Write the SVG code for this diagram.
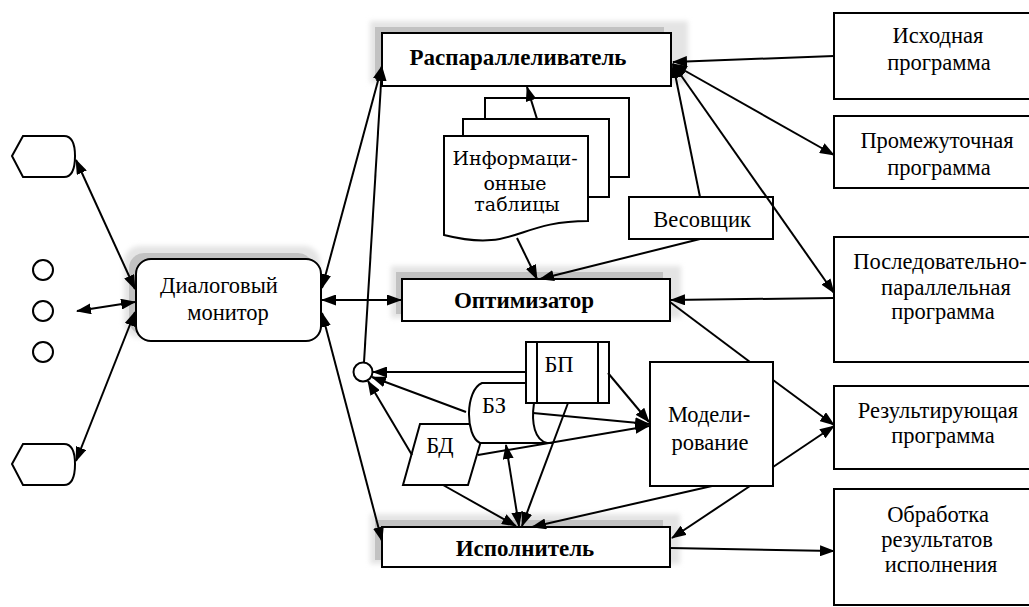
<svg xmlns="http://www.w3.org/2000/svg" width="1029" height="607" viewBox="0 0 1029 607">
<defs>
<marker id="arr" markerUnits="userSpaceOnUse" markerWidth="15" markerHeight="11" refX="14" refY="5.5" orient="auto-start-reverse">
<path d="M0,0 L15,5.5 L0,11 Z" fill="#000"/>
</marker>
<filter id="soft" x="-10%" y="-20%" width="120%" height="140%">
<feGaussianBlur stdDeviation="2.5"/>
</filter>
</defs>
<style>
.box{fill:#fff;stroke:#000;stroke-width:2}
.sh{fill:#c2c2c2}
.halo{fill:#e4e4e4;filter:url(#soft)}
.t{font-family:"Liberation Serif","Times New Roman",serif;font-size:22.5px;fill:#000;text-anchor:middle}
.b{font-weight:bold;font-size:23px}
.w{font-family:"DejaVu Serif","Liberation Serif",serif;font-size:19px}
.c{fill:none;stroke:#000;stroke-width:2}
.a{marker-end:url(#arr)}
.d{marker-start:url(#arr);marker-end:url(#arr)}
</style>
<rect width="1029" height="607" fill="#fff"/>

<g id="hex-top">
<path class="box" d="M12,156 L23,136 H64 Q75,136 75,156 Q75,177 64,177 H23 Z"/>
</g>
<g id="circles">
<circle class="box" cx="43" cy="270" r="10"/>
<circle class="box" cx="43" cy="311" r="10"/>
<circle class="box" cx="43" cy="352" r="10"/>
</g>
<g id="hex-bottom">
<path class="box" d="M12,464 L23,444 H64 Q75,444 75,464 Q75,485 64,485 H23 Z"/>
</g>

<g id="monitor">
<rect class="halo" x="124" y="246" width="196" height="92" rx="16"/>
<rect class="sh" x="129" y="253" width="184" height="82" rx="15"/>
<rect class="box" x="136" y="259" width="185" height="82" rx="15"/>
<text class="t" x="219" y="293">Диалоговый</text>
<text class="t" x="228" y="320">монитор</text>
</g>

<g id="parallelizer">
<rect class="halo" x="370" y="21" width="318" height="62"/>
<rect class="sh" x="375" y="27" width="289" height="53"/>
<rect class="box" x="382" y="33" width="289" height="53"/>
<text class="t b" x="518" y="65">Распараллеливатель</text>
</g>

<g id="info-tables">
<rect class="box" x="485" y="98" width="144" height="79"/>
<rect class="box" x="463" y="119" width="146" height="78"/>
<path class="box" d="M444,136 H588 V221 C516,221 516,253 444,235 Z"/>
<text class="t w" x="515" y="165">Информаци-</text>
<text class="t w" x="515" y="190">онные</text>
<text class="t w" x="517" y="211">таблицы</text>
</g>

<g id="weigher">
<rect class="box" x="629" y="197" width="144" height="42"/>
<text class="t" x="702" y="227">Весовщик</text>
</g>

<g id="optimizer">
<rect class="halo" x="391" y="266" width="290" height="52"/>
<rect class="sh" x="396" y="272" width="267" height="42"/>
<rect class="box" x="402" y="279" width="268" height="42"/>
<text class="t b" x="524" y="308">Оптимизатор</text>
</g>

<g id="junction">
<circle class="box" cx="363" cy="372" r="9.5"/>
</g>

<g id="bd">
<path class="box" d="M420,424 H486 L468,485 H403 Z"/>
<text class="t" x="440" y="453">БД</text>
</g>

<g id="bz">
<path fill="#fff" d="M482,383 H545 V443 H480 C465,436 465,390 482,383 Z"/>
<path class="c" d="M526,383 H482 C465,390 465,436 480,443 H552"/>
<path class="c" d="M534,403 C531,424 535,440 547,443"/>
<text class="t" x="494" y="413">БЗ</text>
</g>

<g id="bp">
<rect class="box" x="526" y="342" width="83" height="61"/>
<path class="c" d="M537,342 V403 M598,342 V403"/>
<text class="t" x="559" y="372">БП</text>
</g>

<g id="modeling">
<rect class="box" x="650" y="362" width="123" height="124"/>
<text class="t" x="709" y="422">Модели-</text>
<text class="t" x="710" y="450">рование</text>
</g>

<g id="executor">
<rect class="halo" x="370" y="514" width="310" height="50"/>
<rect class="sh" x="375" y="520" width="288" height="40"/>
<rect class="box" x="382" y="527" width="288" height="40"/>
<text class="t b" x="525" y="556">Исполнитель</text>
</g>

<g id="source">
<rect class="box" x="834" y="13" width="215" height="86"/>
<text class="t" x="938" y="43">Исходная</text>
<text class="t" x="939" y="70">программа</text>
</g>
<g id="intermediate">
<rect class="box" x="834" y="116" width="215" height="72"/>
<text class="t" x="937" y="148">Промежуточная</text>
<text class="t" x="939" y="175">программа</text>
</g>
<g id="seqpar">
<rect class="box" x="834" y="237" width="215" height="125"/>
<text class="t" x="940" y="269">Последовательно-</text>
<text class="t" x="946" y="295">параллельная</text>
<text class="t" x="943" y="319">программа</text>
</g>
<g id="result">
<rect class="box" x="834" y="386" width="215" height="83"/>
<text class="t" x="938" y="418">Результирующая</text>
<text class="t" x="943" y="443">программа</text>
</g>
<g id="processing">
<rect class="box" x="834" y="489" width="215" height="116"/>
<text class="t" x="938" y="522">Обработка</text>
<text class="t" x="937" y="547">результатов</text>
<text class="t" x="941" y="572">исполнения</text>
</g>

<g id="connectors">
<line class="c d" x1="76" y1="160" x2="135" y2="289"/>
<line class="c d" x1="77" y1="311" x2="135" y2="302"/>
<line class="c d" x1="76" y1="461" x2="135" y2="312"/>
<line class="c d" x1="322" y1="288" x2="382" y2="66"/>
<line class="c d" x1="322" y1="300" x2="401" y2="300"/>
<line class="c d" x1="322" y1="313" x2="382" y2="541"/>
<line class="c a" x1="364" y1="362" x2="382" y2="67"/>
<line class="c a" x1="526" y1="372" x2="373" y2="372"/>
<line class="c a" x1="466" y1="412" x2="372" y2="377"/>
<line class="c a" x1="412" y1="455" x2="368" y2="381"/>
<line class="c a" x1="517" y1="238" x2="537" y2="279"/>
<line class="c a" x1="537" y1="119" x2="527" y2="87"/>
<line class="c a" x1="700" y1="239" x2="540" y2="279"/>
<line class="c a" x1="700" y1="197" x2="673" y2="64"/>
<line class="c a" x1="834" y1="56" x2="673" y2="62"/>
<line class="c d" x1="673" y1="64" x2="834" y2="155"/>
<line class="c d" x1="673" y1="64" x2="834" y2="293"/>
<line class="c a" x1="834" y1="298" x2="671" y2="300"/>
<line class="c" x1="670" y1="302" x2="750" y2="362"/>
<line class="c a" x1="773" y1="380" x2="834" y2="425"/>
<line class="c a" x1="773" y1="467" x2="834" y2="426"/>
<line class="c a" x1="750" y1="486" x2="672" y2="538"/>
<line class="c a" x1="712" y1="486" x2="532" y2="527"/>
<line class="c a" x1="670" y1="548" x2="834" y2="551"/>
<line class="c a" x1="608" y1="373" x2="649" y2="422"/>
<line class="c a" x1="533" y1="413" x2="649" y2="424"/>
<line class="c a" x1="478" y1="455" x2="649" y2="426"/>
<line class="c a" x1="443" y1="485" x2="516" y2="526"/>
<line class="c d" x1="506" y1="445" x2="519" y2="526"/>
<line class="c a" x1="568" y1="403" x2="522" y2="526"/>
</g>
</svg>
